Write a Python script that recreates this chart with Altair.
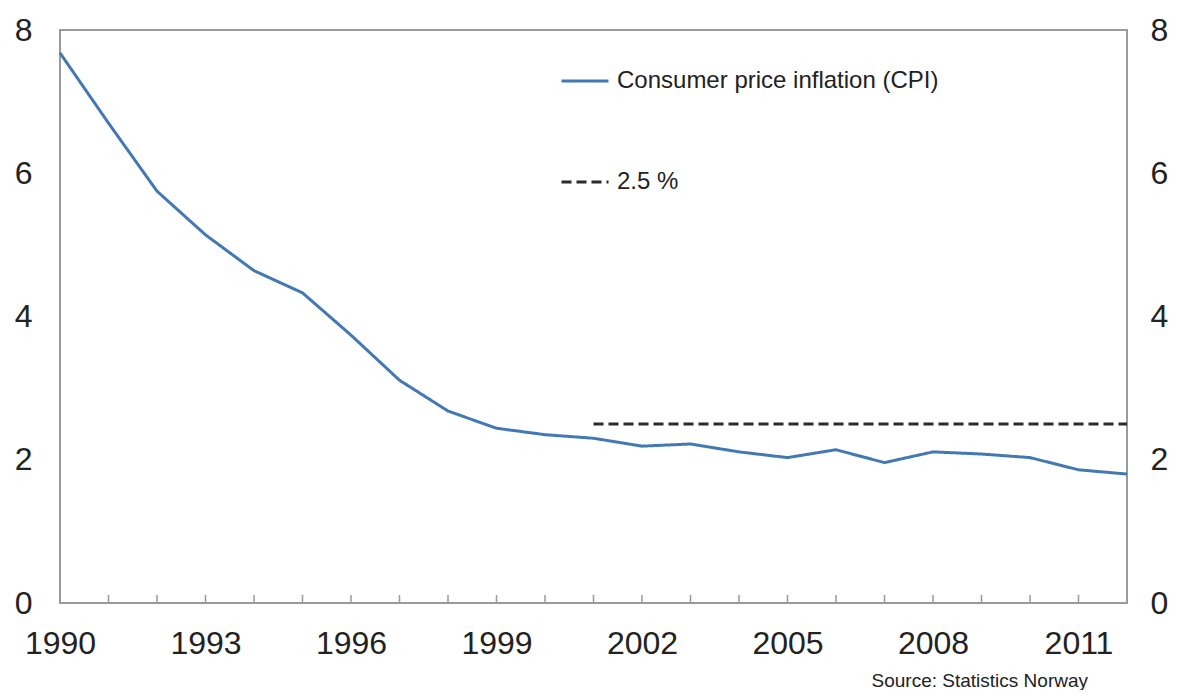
import altair as alt
import pandas as pd

years = list(range(1990, 2013))
cpi = [7.68, 6.70, 5.75, 5.14, 4.64, 4.33, 3.74, 3.11, 2.68, 2.44, 2.35, 2.30,
       2.19, 2.22, 2.11, 2.03, 2.14, 1.96, 2.11, 2.08, 2.03, 1.86, 1.80]
target_years = [2001, 2012]
target_value = 2.5
label_years = [1990, 1993, 1996, 1999, 2002, 2005, 2008, 2011]
y_ticks = [0, 2, 4, 6, 8]
series_names = ["Consumer price inflation (CPI)", "2.5 %"]
series_colors = ["#4279b5", "#2b2b2b"]

rows = [{"year": y, "value": v, "series": series_names[0]} for y, v in zip(years, cpi)]
rows += [{"year": y, "value": target_value, "series": series_names[1]} for y in target_years]
df = pd.DataFrame(rows)
ticks_df = pd.DataFrame({"year": years[1:-1]})

FONT = "Liberation Sans"
TXT = "#222222"
FRAME = "#9a9a9a"

x_scale = alt.Scale(domain=[1990, 2012], nice=False, zero=False)
y_scale = alt.Scale(domain=[0, 8], nice=False)

color = alt.Color(
    "series:N",
    scale=alt.Scale(domain=series_names, range=series_colors),
    legend=alt.Legend(
        title=None, orient="none", legendX=500, legendY=26,
        symbolType="stroke", symbolSize=2209, symbolStrokeWidth=3,
        labelFontSize=24, labelFont=FONT, labelColor=TXT, labelLimit=0,
        rowPadding=64, labelOffset=7,
    ),
)
dash = alt.StrokeDash(
    "series:N",
    scale=alt.Scale(domain=series_names, range=[[1, 0], [10, 5]]),
    legend=None,
)

x_axis = alt.Axis(
    values=label_years, format="d", ticks=False, domain=False, grid=False,
    labelFontSize=32, labelFont=FONT, labelColor=TXT, labelPadding=25,
    labelFlush=False, labelOverlap=False, title=None,
)
X = alt.X("year:Q", scale=x_scale, axis=x_axis)

cpi_layer = alt.Chart(df).transform_filter(
    alt.datum.series == series_names[0]
).mark_line(strokeWidth=3).encode(
    x=X,
    y=alt.Y("value:Q", scale=y_scale, axis=alt.Axis(
        orient="left", values=y_ticks, ticks=False, domain=False, grid=False,
        labelFontSize=32, labelFont=FONT, labelColor=TXT, labelPadding=28,
        labelFlush=False, title=None)),
    color=color,
    strokeDash=dash,
)

target_layer = alt.Chart(df).transform_filter(
    alt.datum.series == series_names[1]
).mark_line(strokeWidth=3).encode(
    x=X,
    y=alt.Y("value:Q", scale=y_scale, axis=alt.Axis(
        orient="right", values=y_ticks, ticks=False, domain=False, grid=False,
        labelFontSize=32, labelFont=FONT, labelColor=TXT, labelPadding=23,
        labelFlush=False, title=None)),
    color=color,
    strokeDash=dash,
)

tick_layer = alt.Chart(ticks_df).mark_rule(color=FRAME, strokeWidth=1.5).encode(
    x=X,
    y=alt.value(573),
    y2=alt.value(565),
)

chart = alt.layer(tick_layer, cpi_layer, target_layer).resolve_axis(
    y="independent"
).properties(
    width=1067,
    height=573,
    padding={"left": 52, "top": 22, "right": 44, "bottom": 87},
    autosize=alt.AutoSizeParams(type="none"),
    view=alt.ViewBackground(stroke=FRAME, strokeWidth=2),
    title=alt.TitleParams(
        "Source: Statistics Norway", orient="bottom", anchor="end", frame="group",
        fontSize=19, fontWeight="normal", font=FONT, color=TXT, offset=13, dx=-39,
    ),
).configure_view(
    stroke=FRAME, strokeWidth=2
).configure(background="white")

chart.save("out.html", embed_options={"renderer": "svg", "actions": False})
